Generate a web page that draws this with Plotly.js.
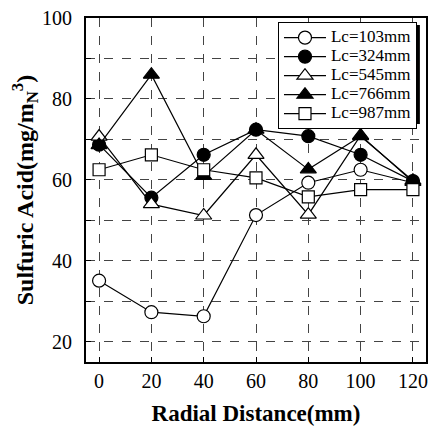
<!DOCTYPE html>
<html>
<head>
<meta charset="utf-8">
<script src="https://cdn.plot.ly/plotly-3.0.1.min.js"></script>
<style>html,body{margin:0;padding:0;background:#fff;}#chart{width:428px;height:426px;}</style>
</head>
<body>
<div id="chart"></div>
<script>
const radialDistance = [0, 20, 40, 60, 80, 100, 120];
const seriesNames = ['Lc=103mm', 'Lc=324mm', 'Lc=545mm', 'Lc=766mm', 'Lc=987mm'];
const lc103 = [35.1, 27.3, 26.3, 51.3, 59.3, 62.5, 59.3];
const lc324 = [68.7, 55.6, 66.2, 72.4, 70.8, 66.2, 59.7];
const lc545 = [70.7, 54.0, 51.2, 66.2, 51.4, 71.0, 59.5];
const lc766 = [68.6, 86.0, 61.0, 72.4, 62.6, 70.8, 59.8];
const lc987 = [62.5, 66.2, 62.5, 60.5, 55.8, 57.6, 57.6];
const yTickVals = [20, 40, 60, 80, 100];
const xTickVals = [0, 20, 40, 60, 80, 100, 120];

const seriesValues = [lc103, lc324, lc545, lc766, lc987];
const symbols = ['circle', 'circle', 'triangle-up', 'triangle-up', 'square'];
const fills = ['white', 'black', 'white', 'black', 'white'];
const sizes = [13, 13, 14, 14, 12];

const FONT = 'Liberation Serif';

const traces = seriesValues.map((vals, i) => ({
  x: radialDistance,
  y: vals,
  name: '<span style="font-size:17px">' + seriesNames[i] + '</span>',
  type: 'scatter',
  mode: 'lines+markers',
  line: {color: 'black', width: 1.2},
  marker: {symbol: symbols[i], size: sizes[i], color: fills[i], line: {color: 'black', width: 1.2}},
  cliponaxis: false
}));

const gridStyle = {showgrid: true, gridcolor: '#444', gridwidth: 1, griddash: 'dash'};

const layout = {
  width: 428, height: 426,
  margin: {l: 86, r: 2, t: 18, b: 64},
  paper_bgcolor: 'white', plot_bgcolor: 'white',
  font: {family: FONT, color: 'black', size: 19},
  showlegend: true,
  legend: {
    x: 0.9735, xanchor: 'right', y: 0.988, yanchor: 'top',
    bgcolor: 'white', bordercolor: 'black', borderwidth: 1,
    font: {family: FONT, size: 12, color: 'black'},
    itemwidth: 42, tracegroupgap: 0
  },
  xaxis: Object.assign({
    range: [-5, 125],
    tickvals: xTickVals,
    ticks: 'inside', ticklen: 5, tickcolor: 'black', tickwidth: 1,
    showline: true, linecolor: 'black', linewidth: 2, mirror: true,
    zeroline: false,
    tickfont: {family: FONT, size: 20},
    ticklabeloverflow: 'allow',
    title: {text: '<b>Radial Distance(mm)</b>', font: {family: FONT, size: 23}, standoff: 22}
  }, gridStyle),
  yaxis: Object.assign({
    range: [15, 100],
    tickvals: yTickVals,
    ticks: 'inside', ticklen: 5, tickcolor: 'black', tickwidth: 1,
    showline: true, linecolor: 'black', linewidth: 2, mirror: true,
    zeroline: false,
    minor: {dtick: 10, tick0: 0, ticks: 'inside', ticklen: 5, tickcolor: 'black', tickwidth: 1,
            showgrid: true, gridcolor: '#444', gridwidth: 1, griddash: 'dash'},
    tickfont: {family: FONT, size: 20},
    ticklabelstandoff: 8,
    title: {text: '<b>Sulfuric Acid(mg/m<sub>N</sub><sup>3</sup>)</b>', font: {family: FONT, size: 24}, standoff: 2}
  }, gridStyle),
  shapes: [{
    type: 'rect', xref: 'paper', yref: 'paper', layer: 'above',
    x0: 0.5765, x1: 0.982, y0: 0.692, y1: 0.9797,
    fillcolor: 'black', line: {width: 0}
  }]
};

Plotly.newPlot('chart', traces, layout, {displayModeBar: false, staticPlot: true});
</script>
</body>
</html>
